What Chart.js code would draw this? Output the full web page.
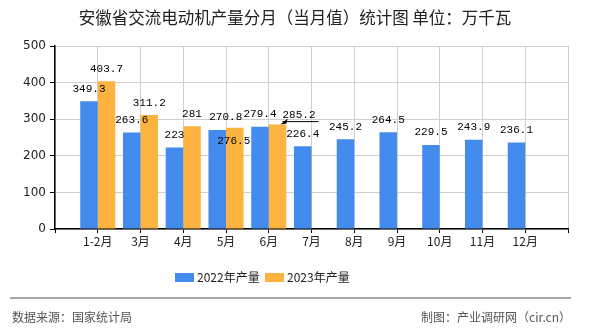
<!DOCTYPE html>
<html>
<head>
<meta charset="utf-8">
<script src="https://cdn.jsdelivr.net/npm/chart.js@4"></script>
<style>
  html, body { margin: 0; padding: 0; background: #fff; }
  #wrap { width: 590px; height: 330px; position: relative; }
</style>
</head>
<body>
<div id="wrap"><canvas id="chart"></canvas></div>
<script>
// data
const months = ['1-2月', '3月', '4月', '5月', '6月', '7月', '8月', '9月', '10月', '11月', '12月'];
const output2022 = [349.3, 263.6, 223, 270.8, 279.4, 226.4, 245.2, 264.5, 229.5, 243.9, 236.1];
const output2023 = [403.7, 311.2, 281, 276.5, 285.2, null, null, null, null, null, null];
const seriesNames = ['2022年产量', '2023年产量'];
const yTicks = [0, 100, 200, 300, 400, 500];

const BLUE = '#438cee';
const ORANGE = '#fcb33f';
const CJK = '"Noto Sans CJK SC", "Noto Sans", sans-serif';
const MONO = '"Liberation Mono", "DejaVu Sans Mono", monospace';

// empty slot on each side, like the original axis
const labels = [''].concat(months, ['']);
const pad = arr => [null].concat(arr, [null]);

// label nudges where the original moved labels to avoid overlap
const labelTweaks = {
    '0,4': { dx: 8.5, dy: 0 },
    '1,4': { dx: -1, dy: 25.5 },
    '1,5': { dx: 21.5, dy: 2.5, leader: true }
};

const valueLabels = {
    id: 'valueLabels',
    afterDatasetsDraw(chart) {
        const ctx = chart.ctx;
        ctx.save();
        ctx.font = '11px ' + MONO;
        ctx.fillStyle = '#000';
        ctx.textAlign = 'center';
        ctx.textBaseline = 'middle';
        chart.data.datasets.forEach((ds, d) => {
            chart.getDatasetMeta(d).data.forEach((el, i) => {
                const v = ds.data[i];
                if (v === null || v === undefined) return;
                const t = labelTweaks[d + ',' + i] || { dx: 0, dy: 0 };
                const x = el.x + t.dx;
                const y = el.y - 12.5 + t.dy;
                ctx.fillText(String(v), x, y);
                if (t.leader) {
                    const w = ctx.measureText(String(v)).width;
                    const ly = y + 7;
                    ctx.strokeStyle = '#000';
                    ctx.lineWidth = 1;
                    ctx.beginPath();
                    ctx.moveTo(el.x + 5, ly);
                    ctx.lineTo(x + w / 2 + 3, ly);
                    ctx.stroke();
                    ctx.beginPath();
                    ctx.moveTo(el.x + 3, el.y);
                    ctx.lineTo(el.x + 10, ly - 3);
                    ctx.lineTo(el.x + 9, ly + 2);
                    ctx.closePath();
                    ctx.fillStyle = '#000';
                    ctx.fill();
                }
            });
        });
        ctx.restore();
    }
};

const frame = {
    id: 'frame',
    afterDraw(chart) {
        const ctx = chart.ctx;
        ctx.save();
        // title
        ctx.fillStyle = '#222';
        ctx.font = '16.5px ' + CJK;
        ctx.textAlign = 'center';
        ctx.textBaseline = 'middle';
        ctx.fillText('安徽省交流电动机产量分月（当月值）统计图 单位：万千瓦', 295, 18);

        // legend
        ctx.font = '12px ' + CJK;
        ctx.textAlign = 'left';
        const legendX = [175, 265];
        chart.data.datasets.forEach((ds, d) => {
            ctx.fillStyle = ds.backgroundColor;
            ctx.fillRect(legendX[d], 273, 19, 9);
            ctx.fillStyle = '#222';
            ctx.fillText(ds.label, legendX[d] + 22, 277.5);
        });

        // footer
        ctx.strokeStyle = '#888';
        ctx.lineWidth = 1.5;
        ctx.beginPath();
        ctx.moveTo(10, 298);
        ctx.lineTo(571, 298);
        ctx.stroke();
        ctx.fillStyle = '#555';
        ctx.font = '12px ' + CJK;
        ctx.fillText('数据来源：国家统计局', 12, 317);
        ctx.textAlign = 'right';
        ctx.fillText('制图：产业调研网（cir.cn）', 571, 317);
        ctx.restore();
    }
};

new Chart(document.getElementById('chart'), {
    type: 'bar',
    data: {
        labels: labels,
        datasets: [
            { label: seriesNames[0], data: pad(output2022), backgroundColor: BLUE },
            { label: seriesNames[1], data: pad(output2023), backgroundColor: ORANGE }
        ]
    },
    options: {
        responsive: true,
        maintainAspectRatio: false,
        animation: false,
        categoryPercentage: 0.82,
        barPercentage: 1,
        layout: { padding: { top: 46, right: 22, left: 0, bottom: 76 } },
        plugins: {
            legend: { display: false },
            title: { display: false },
            tooltip: { enabled: false }
        },
        scales: {
            x: {
                offset: false,
                grid: { color: '#cfcfcf', tickColor: '#000', tickLength: 4, offset: false },
                border: { color: '#000', width: 1.5 },
                ticks: { color: '#222', font: { size: 12, family: CJK }, padding: 1, maxRotation: 0, autoSkip: false },
                afterFit(scale) { scale.height = 25; }
            },
            y: {
                min: 0,
                max: 500,
                afterBuildTicks(scale) { scale.ticks = yTicks.map(v => ({ value: v })); },
                grid: { color: '#cfcfcf', tickColor: '#000', tickLength: 5 },
                border: { color: '#000', width: 1.5 },
                ticks: { color: '#222', font: { size: 12, family: '"DejaVu Sans", sans-serif' }, padding: 4 },
                afterFit(scale) { scale.width = 55; }
            }
        }
    },
    plugins: [valueLabels, frame]
});
</script>
</body>
</html>
